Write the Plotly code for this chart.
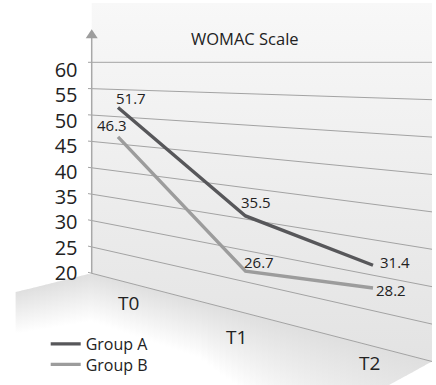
import plotly.graph_objects as go

# ---------------- data ----------------
categories = ["T0", "T1", "T2"]
group_a = [51.7, 35.5, 31.4]
group_b = [46.3, 26.7, 28.2]
series_names = ["Group A", "Group B"]
y_ticks = [20, 25, 30, 35, 40, 45, 50, 55, 60]
title_text = "WOMAC Scale"

# ---------------- geometry of the oblique (perspective) wall ----------------
W, H = 436, 385
X0, DX = 118.0, 127.5          # screen x of first category and category step
XW, XR = 91.7, 432.0           # wall left / right edge (px)
PY_TOP, PY_BOT = 62.3, 273.3   # px rows of 60 and 20 on the wall's left edge
VMAX, VMIN = 60.0, 20.0
PPU = (PY_BOT - PY_TOP) / (VMAX - VMIN)
K = 0.001228                   # perspective growth per px to the right
Y_HI = VMAX + PY_TOP / PPU
Y_LO = Y_HI - H / PPU
X_LO = -X0 / DX
X_HI = (W - X0) / DX

# separate scale for the tick labels (they sit slightly off the gridlines)
PPU2 = (273.0 - 70.0) / (VMAX - VMIN)
Y2_HI = VMAX + 70.0 / PPU2
Y2_LO = Y2_HI - H / PPU2


def px_x(xp):
    return (xp - X0) / DX


def px_y(yp):
    return Y_HI - yp / PPU


def xpix(i):
    return X0 + DX * i


def depth(xp, v):
    """value -> projected value on the slanted wall at screen x"""
    return VMAX - (VMAX - v) * (1 + K * (xp - XW))


def ypix_of(xp, v):
    return PY_TOP + (VMAX - depth(xp, v)) * PPU


fig = go.Figure()

# ---- wall background ----
wall_top = 3.0
fig.add_trace(go.Scatter(
    x=[px_x(XW), px_x(XR), px_x(XR), px_x(XW), px_x(XW)],
    y=[px_y(wall_top), px_y(wall_top), depth(XR, VMIN), VMIN, px_y(wall_top)],
    mode="lines", fill="toself", line=dict(width=0, color="rgba(0,0,0,0)"),
    fillgradient=dict(type="vertical", colorscale=[[0, "#e3e3e3"], [1, "#f8f8f8"]]),
    showlegend=False, hoverinfo="skip"))

# ---- floor (strips with a fading vertical gradient) ----
FL_X, FL_Y = 16.0, 292.0       # far-left corner of floor
RE_X, RE_Y = 380.0, 390.0      # right edge goes from (XR, floor back) to here


def floor_back(xp):
    if xp <= XW:
        return PY_BOT + (XW - xp) * (FL_Y - PY_BOT) / (XW - FL_X)
    return ypix_of(xp, VMIN)


def floor_bottom(xp):
    yb = ypix_of(XR, VMIN)
    if xp >= RE_X:
        return yb + (XR - xp) * (RE_Y - yb) / (XR - RE_X)
    return RE_Y


def fade_len(xp):
    return 42.0 + (xp - FL_X) * 0.08 + max(0.0, xp - 200.0) * 0.4


step = 6.0
xa = FL_X
while xa < XR - 0.01:
    xb = min(xa + step, XR)
    a, b = xa - 0.4, min(xb + 0.4, XR)
    pts_x = [a, b, b, a, a]
    pts_y = [floor_back(a), floor_back(b), floor_bottom(b), floor_bottom(a), floor_back(a)]
    xm = 0.5 * (xa + xb)
    top = floor_back(xm)
    fig.add_trace(go.Scatter(
        x=[px_x(p) for p in pts_x], y=[px_y(p) for p in pts_y],
        mode="lines", fill="toself", line=dict(width=0, color="rgba(0,0,0,0)"),
        fillgradient=dict(type="vertical",
                          colorscale=[[0, "#ffffff"], [1, "#dfdfdf"]],
                          start=px_y(top + fade_len(xm)), stop=px_y(top)),
        showlegend=False, hoverinfo="skip"))
    xa = xb

# ---- gridlines ----
gx, gy = [], []
for v in y_ticks:
    gx += [px_x(88.0), px_x(XR), None]
    gy += [depth(88.0, v), depth(XR, v), None]
fig.add_trace(go.Scatter(x=gx, y=gy, mode="lines",
                         line=dict(color="#a3a3a3", width=1),
                         showlegend=False, hoverinfo="skip"))

# ---- data series ----
colors = ["#57575a", "#9c9c9c"]
legends = ["legend", "legend2"]
xs = list(range(len(categories)))
for name, vals, col, lg in zip(series_names, [group_a, group_b], colors, legends):
    fig.add_trace(go.Scatter(
        x=xs, y=[depth(xpix(i), v) for i, v in zip(xs, vals)],
        mode="lines", name=name, line=dict(color=col, width=3.4), legend=lg,
        hovertemplate="%{text}<extra>" + name + "</extra>",
        text=[f"{c}: {v}" for c, v in zip(categories, vals)]))

# dummy trace to activate the label axis
fig.add_trace(go.Scatter(x=[None], y=[None], yaxis="y2", showlegend=False, hoverinfo="skip"))

# ---- value labels ----
label_shift = {
    "Group A": [(13, 9.5), (10.5, 14.3), (22, 3.4)],
    "Group B": [(-6, 12), (13, 9), (18, -2)],
}
ann = []
for name, vals in zip(series_names, [group_a, group_b]):
    for i, v in enumerate(vals):
        sx, sy = label_shift[name][i]
        ann.append(dict(x=i, y=depth(xpix(i), v), xref="x", yref="y", text=f"{v}",
                        showarrow=False, xshift=sx, yshift=sy,
                        font=dict(size=15, color="#222222", family="Open Sans")))

# floor category labels
cat_pos = [(128.0, 303.3), (236.7, 337.0), (369.0, 363.3)]
for c, (cx, cy) in zip(categories, cat_pos):
    ann.append(dict(x=cx / W, y=1 - cy / H, xref="paper", yref="paper", text=c,
                    showarrow=False, xanchor="center", yanchor="middle",
                    font=dict(size=19, color="#222222", family="Open Sans")))

# title on the wall
ann.append(dict(x=245 / W, y=1 - 38.5 / H, xref="paper", yref="paper", text=title_text,
                showarrow=False, xanchor="center", yanchor="middle",
                font=dict(size=16.5, color="#222222", family="Open Sans")))

# ---- axis line and arrow ----
shapes = [
    dict(type="line", xref="x", yref="y", x0=px_x(XW), x1=px_x(XW),
         y0=px_y(38.0), y1=px_y(PY_BOT), line=dict(color="#a8a8a8", width=1.5)),
    dict(type="path", xref="x", yref="y",
         path=(f"M {px_x(XW)} {px_y(29.3)} L {px_x(XW + 6)} {px_y(38.3)} "
               f"L {px_x(XW - 6)} {px_y(38.3)} Z"),
         fillcolor="#9d9d9d", line=dict(width=0)),
]

legend_font = dict(size=16, color="#222222", family="Open Sans")
fig.update_layout(
    width=W, height=H, margin=dict(l=0, r=0, t=0, b=0),
    paper_bgcolor="white", plot_bgcolor="rgba(0,0,0,0)",
    xaxis=dict(range=[X_LO, X_HI], visible=False, fixedrange=True),
    yaxis=dict(range=[Y_LO, Y_HI], visible=False, fixedrange=True),
    yaxis2=dict(overlaying="y", anchor="free", position=77.5 / W, side="left",
                range=[Y2_LO, Y2_HI], tickvals=y_ticks, showgrid=False,
                zeroline=False, showline=False, ticks="", fixedrange=True,
                tickfont=dict(size=20, color="#222222", family="Open Sans")),
    legend=dict(x=45.7 / W, xanchor="left", y=1 - 327 / H, yanchor="top",
                bgcolor="rgba(0,0,0,0)", font=legend_font),
    legend2=dict(x=45.7 / W, xanchor="left", y=1 - 347.5 / H, yanchor="top",
                 bgcolor="rgba(0,0,0,0)", font=legend_font),
    annotations=ann, shapes=shapes, showlegend=True,
    font=dict(family="Open Sans"),
)

fig.write_html("out.html", config={"displayModeBar": False},
               post_script="document.body.style.margin='0px';")
